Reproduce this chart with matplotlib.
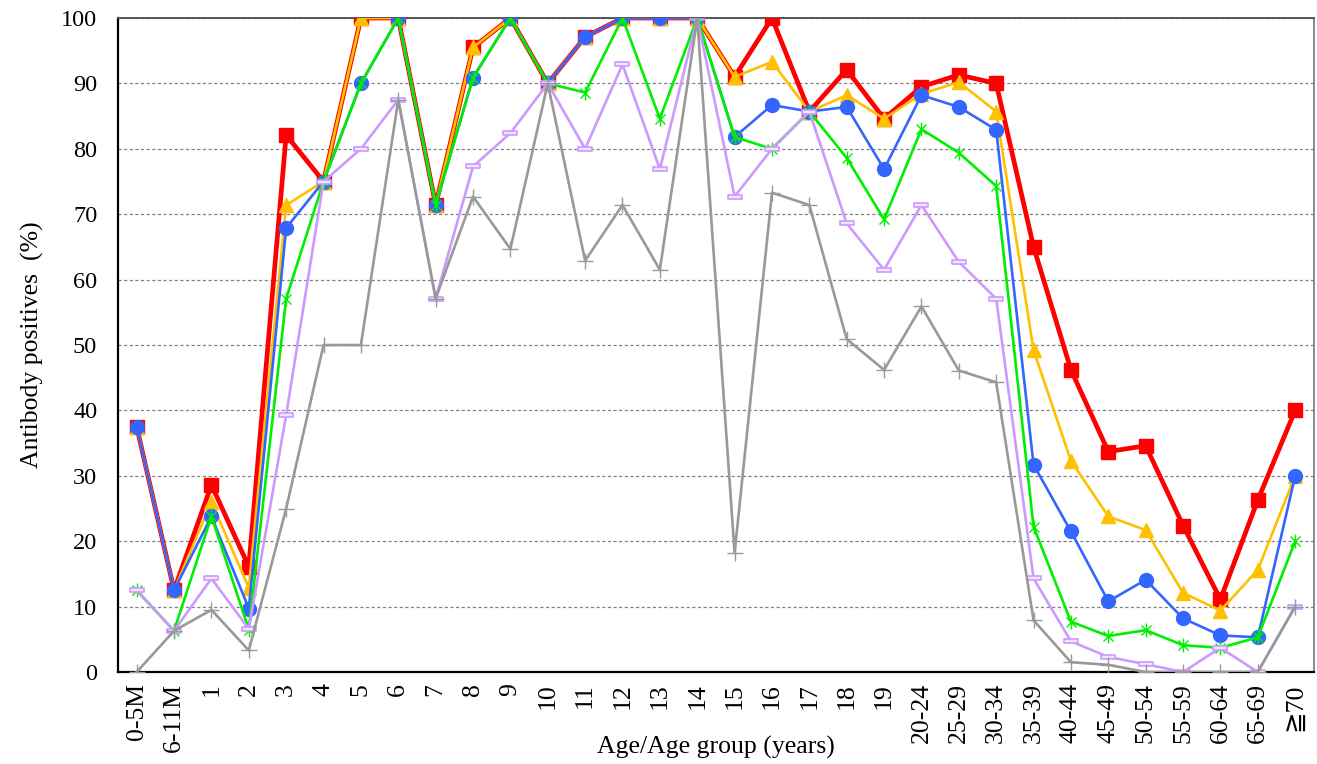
import matplotlib.pyplot as plt
from matplotlib.path import Path

plt.rcParams['font.family'] = ['Liberation Serif', 'DejaVu Serif', 'DejaVu Sans']

ages = ["0-5M", "6-11M", "1", "2", "3", "4", "5", "6", "7", "8", "9", "10",
        "11", "12", "13", "14", "15", "16", "17", "18", "19",
        "20-24", "25-29", "30-34", "35-39", "40-44", "45-49", "50-54",
        "55-59", "60-64", "65-69", "\u226770"]

red = [37.5, 12.5, 28.6, 16.1, 82.1, 75, 100, 100, 71.4, 95.5, 100, 90,
       97.1, 100, 100, 100, 91, 100, 85.7, 92.1, 84.6,
       89.5, 91.3, 90, 65, 46.2, 33.7, 34.6, 22.4, 11.1, 26.3, 40]
yellow = [37.5, 12.5, 26.0, 12.9, 71.4, 75, 100, 100, 71.4, 95.5, 100, 90,
          97.1, 100, 100, 100, 91, 93.3, 85.7, 88.2, 84.6,
          88.4, 90.2, 85.7, 49.2, 32.3, 23.8, 21.7, 12.1, 9.4, 15.6, 30]
blue = [37.5, 12.5, 23.8, 9.7, 67.9, 75, 90, 100, 71.4, 90.9, 100, 90,
        97.1, 100, 100, 100, 81.8, 86.7, 85.7, 86.4, 76.9,
        88.2, 86.4, 82.9, 31.7, 21.5, 10.8, 14.1, 8.2, 5.6, 5.3, 30]
green = [12.5, 6.3, 23.8, 6.5, 57.1, 75, 90, 100, 71.4, 90.9, 100, 90,
         88.6, 100, 84.6, 100, 81.8, 80, 85.7, 78.6, 69.2,
         83.0, 79.4, 74.3, 22.2, 7.7, 5.5, 6.4, 4.1, 3.7, 5.3, 20]
purple = [12.5, 6.3, 14.3, 6.6, 39.3, 75, 80, 87.5, 57.1, 77.3, 82.4, 90,
          80, 92.9, 76.9, 100, 72.7, 80, 85.7, 68.6, 61.5,
          71.4, 62.7, 57.1, 14.3, 4.7, 2.3, 1.2, 0, 3.7, 0, 10]
gray = [0, 6.3, 9.5, 3.3, 25, 50, 50, 87.5, 57.1, 72.7, 64.7, 90,
        62.9, 71.4, 61.5, 100, 18.2, 73.3, 71.4, 50.9, 46.2,
        55.9, 46.1, 44.3, 7.9, 1.5, 1.1, 0, 0, 0, 0, 10]

# asterisk (x with a vertical bar) and a flat box, like the original markers
star = Path([(0, -1), (0, 1), (-0.72, -0.72), (0.72, 0.72), (-0.72, 0.72), (0.72, -0.72)],
            [Path.MOVETO, Path.LINETO, Path.MOVETO, Path.LINETO, Path.MOVETO, Path.LINETO])
dash_box = Path([(-1, -0.3), (1, -0.3), (1, 0.3), (-1, 0.3), (-1, -0.3)],
                [Path.MOVETO, Path.LINETO, Path.LINETO, Path.LINETO, Path.CLOSEPOLY])

fig = plt.figure(figsize=(13.17, 7.64), dpi=100)
ax = fig.add_axes([0.0896, 0.1204, 0.908, 0.856])
x = list(range(len(ages)))

ax.plot(x, red, color='#FF0000', lw=3.4, marker='s', ms=10, zorder=3)
ax.plot(x, yellow, color='#FFC000', lw=1.9, marker='^', ms=10, zorder=3)
ax.plot(x, blue, color='#3366FF', lw=1.9, marker='o', ms=10, zorder=3)
ax.plot(x, green, color='#00EE00', lw=1.9, marker=star, ms=10, mew=1.0,
        mec='#00EE00', zorder=3)
ax.plot(x, purple, color='#CC99FF', lw=1.9, marker=dash_box, ms=10, mew=1.2,
        mec='#CC99FF', mfc='#F2E6FF', zorder=3)
ax.plot(x, gray, color='#999999', lw=1.9, marker='+', ms=12, mew=1.0, zorder=3)

ax.set_xlim(-0.5, 31.5)
ax.set_ylim(0, 100)
ax.set_yticks(range(0, 101, 10))
ax.set_xticks(x)
ax.set_xticklabels(ages, rotation=90, fontsize=18.5)
ax.tick_params(axis='y', labelsize=17.5, length=0, pad=15)
ax.tick_params(axis='x', length=0, pad=8)
ax.yaxis.grid(True, color='#808080', linestyle=(0, (2.5, 2)), lw=0.9)
ax.set_axisbelow(True)

for side in ['left', 'bottom']:
    ax.spines[side].set_color('black')
    ax.spines[side].set_linewidth(1.6)
ax.spines['top'].set_color('#555555')
ax.spines['top'].set_linewidth(1.4)
ax.spines['right'].set_color('#777777')
ax.spines['right'].set_linewidth(1.2)

ax.set_ylabel("Antibody positives  (%)", fontsize=18.5, labelpad=12)
ax.set_xlabel("Age/Age group (years)", fontsize=18.5)
ax.xaxis.set_label_coords(0.5, -0.116)
ax.xaxis.label.set_va('center')

fig.savefig("out.png", dpi=100)
